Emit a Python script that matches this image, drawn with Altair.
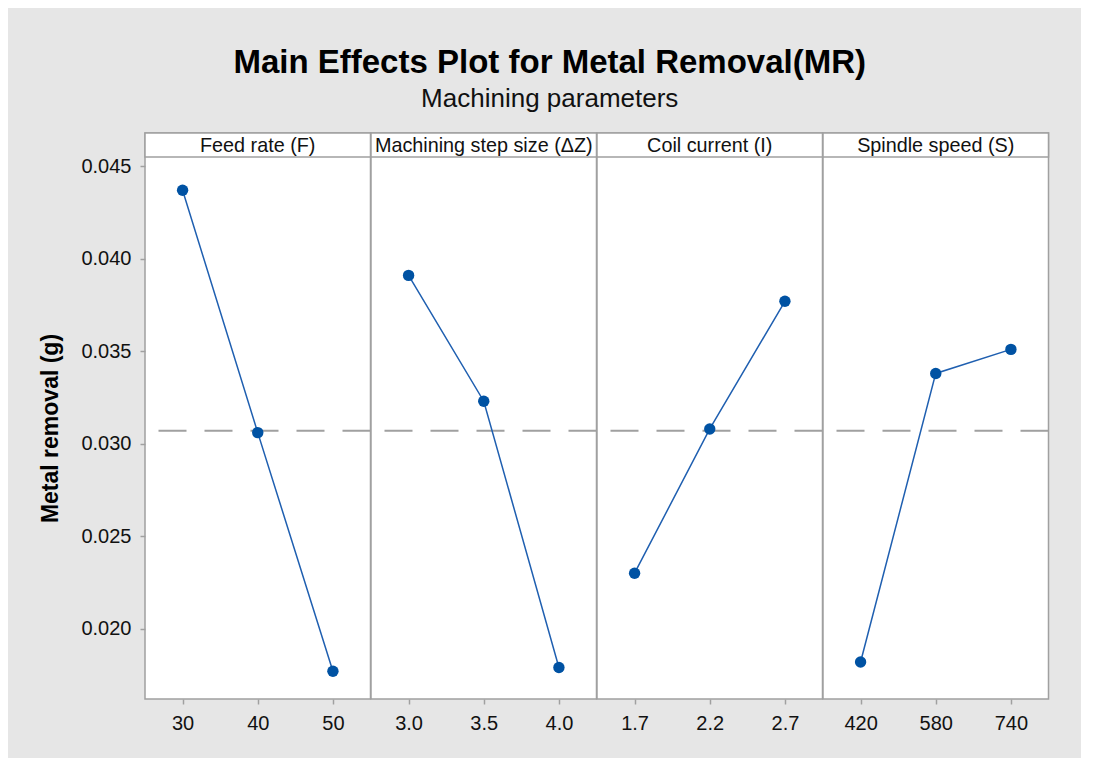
import altair as alt
import pandas as pd

# ---- data ----
panel_names = ["Feed rate (F)", "Machining step size (ΔZ)", "Coil current (I)", "Spindle speed (S)"]

feed_levels = ["30", "40", "50"]
feed_means = [0.0437, 0.0306, 0.0177]

step_levels = ["3.0", "3.5", "4.0"]
step_means = [0.0391, 0.0323, 0.0179]

coil_levels = ["1.7", "2.2", "2.7"]
coil_means = [0.0230, 0.0308, 0.0377]

spindle_levels = ["420", "580", "740"]
spindle_means = [0.0182, 0.0338, 0.0351]

grand_mean = 0.0307
y_ticks = [0.020, 0.025, 0.030, 0.035, 0.040, 0.045]
y_domain = [0.0162, 0.0455]

# ---- styling ----
FONT = "Liberation Sans"
PANEL_W = 225.5
PANEL_H = 566
HEADER_H = 24
BLUE_LINE = "#1f5fb0"
BLUE_PT = "#0052a3"
GRAY = "#a0a0a0"

yscale = alt.Scale(domain=y_domain, range=[PANEL_H, HEADER_H], nice=False, zero=False)


def make_panel(name, levels, means, first):
    df = pd.DataFrame({"level": levels, "mean": means})
    x = alt.X(
        "level:N",
        sort=levels,
        scale=alt.Scale(type="point", domain=levels, padding=0.5),
        axis=alt.Axis(title=None, labelAngle=0),
    )
    if first:
        yaxis = alt.Axis(
            title="Metal removal (g)",
            values=y_ticks,
            format=".3f",
        )
    else:
        yaxis = None
    y = alt.Y("mean:Q", scale=yscale, axis=yaxis)

    base = alt.Chart(df)
    rule = alt.Chart(pd.DataFrame({"mean": [grand_mean]})).mark_rule(
        color=GRAY, strokeWidth=2, strokeDash=[28, 18]
    ).encode(y=y)
    line = base.mark_line(color=BLUE_LINE, strokeWidth=1.5).encode(x=x, y=y)
    pts = base.mark_circle(size=130, opacity=1, color=BLUE_PT).encode(x=x, y=y)

    hdf = pd.DataFrame({"name": [name]})
    hrect = alt.Chart(hdf).mark_rect(fill="white", stroke=GRAY, strokeWidth=1.5).encode(
        x=alt.value(0), x2=alt.value("width"), y=alt.value(0), y2=alt.value(HEADER_H)
    )
    htext = alt.Chart(hdf).mark_text(
        font=FONT, fontSize=19.8, color="#111111", baseline="middle", align="center"
    ).encode(x=alt.value(PANEL_W / 2), y=alt.value(HEADER_H / 2 + 1), text="name:N")

    return alt.layer(rule, line, pts, hrect, htext).properties(width=PANEL_W, height=PANEL_H)


panels = [
    make_panel(panel_names[0], feed_levels, feed_means, True),
    make_panel(panel_names[1], step_levels, step_means, False),
    make_panel(panel_names[2], coil_levels, coil_means, False),
    make_panel(panel_names[3], spindle_levels, spindle_means, False),
]

chart = (
    alt.hconcat(*panels, spacing=0, bounds="flush")
    .resolve_scale(x="independent")
    .properties(
        title=alt.Title(
            "Main Effects Plot for Metal Removal(MR)",
            subtitle="Machining parameters",
            anchor="middle",
            frame="bounds",
            font=FONT,
            fontSize=33,
            fontWeight="bold",
            color="#000000",
            subtitleFont=FONT,
            subtitleFontSize=26,
            subtitleColor="#111111",
            subtitlePadding=6,
            offset=20,
            dx=5,
        ),
        background="#e6e6e6",
        padding={"left": 31, "top": 38, "right": 30, "bottom": 24},
    )
    .configure_view(stroke=GRAY, strokeWidth=1.5, fill="white")
    .configure_axis(
        domain=False,
        ticks=True,
        tickColor=GRAY,
        tickSize=5,
        tickWidth=1.5,
        labelFont=FONT,
        labelFontSize=20,
        labelColor="#111111",
        labelPadding=9,
        grid=False,
        titleFont=FONT,
        titleFontSize=23,
        titleFontWeight="bold",
        titleColor="#000000",
        titlePadding=18,
    )
)

chart.save("out.html", embed_options={"renderer": "svg", "actions": False})
